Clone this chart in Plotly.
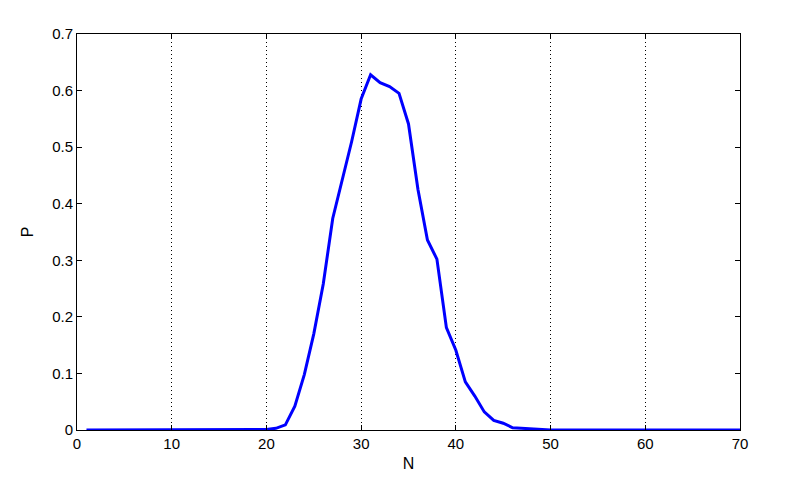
import plotly.graph_objects as go

# sample sizes and probabilities
n_values = list(range(1, 71))
p_values = [0.0] * 19 + [
    0.001, 0.003, 0.009, 0.042, 0.098, 0.170, 0.258, 0.374, 0.440, 0.510,
    0.585, 0.628, 0.614, 0.607, 0.595, 0.541, 0.425, 0.336, 0.302, 0.181,
    0.141, 0.085, 0.060, 0.032, 0.017, 0.012, 0.004, 0.003, 0.001, 0.0005,
] + [0.0] * 21

x_ticks = [0, 10, 20, 30, 40, 50, 60, 70]
y_ticks = [0, 0.1, 0.2, 0.3, 0.4, 0.5, 0.6, 0.7]
y_labels = ["0", "0.1", "0.2", "0.3", "0.4", "0.5", "0.6", "0.7"]

font = "Liberation Sans, Arial"

fig = go.Figure()
fig.add_trace(go.Scatter(x=n_values, y=p_values, mode="lines",
                         line=dict(color="#0000ff", width=3), showlegend=False))

axis_style = dict(
    showline=True, linecolor="black", linewidth=1, mirror="ticks",
    ticks="inside", ticklen=5, tickcolor="black", zeroline=False, automargin=False,
    tickfont=dict(family=font, size=15, color="black"),
)
fig.update_xaxes(range=[0, 70], tickvals=x_ticks, showgrid=True,
                 gridcolor="black", griddash="1px,3px", gridwidth=1,
                 title=dict(text="N", font=dict(family=font, size=16, color="black"), standoff=6),
                 **axis_style)
fig.update_yaxes(range=[0, 0.7], tickvals=y_ticks, ticktext=y_labels, showgrid=False,
                 title=dict(text="P", font=dict(family=font, size=16, color="black"), standoff=14),
                 **axis_style)
# page body adds ~7px offset, so margins are shifted to compensate
fig.update_layout(width=798, height=487, margin=dict(l=69, r=66, t=26, b=65),
                  plot_bgcolor="white", paper_bgcolor="white")
fig.write_html("out.html")
